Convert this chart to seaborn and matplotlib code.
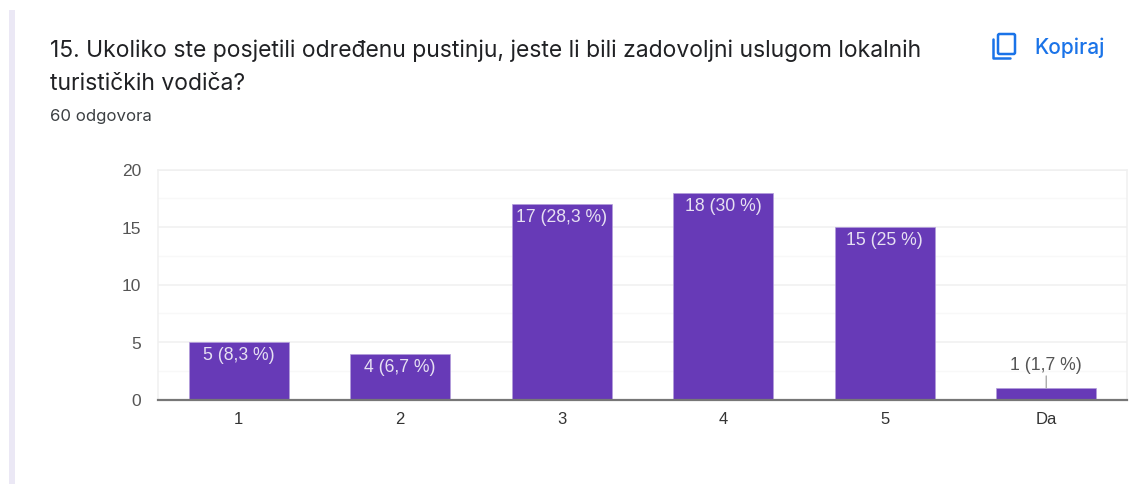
import matplotlib
matplotlib.use('Agg')
import matplotlib.pyplot as plt
from matplotlib.patches import FancyBboxPatch, Rectangle
import pandas as pd
import seaborn as sns

#%% Data
categories = ['1', '2', '3', '4', '5', 'Da']
counts = [5, 4, 17, 18, 15, 1]
bar_labels = ['5 (8,3 %)', '4 (6,7 %)', '17 (28,3 %)', '18 (30 %)', '15 (25 %)', '1 (1,7 %)']
y_ticks = [0, 5, 10, 15, 20]
minor_ticks = [2.5, 7.5, 12.5, 17.5]

title_lines = ['15. Ukoliko ste posjetili određenu pustinju, jeste li bili zadovoljni uslugom lokalnih',
               'turističkih vodiča?']
answers = '60 odgovora'
copy_label = 'Kopiraj'

purple = '#673ab7'
W, H = 1138, 485

#%% Figure
sns.set_theme(style='white')
fig = plt.figure(figsize=(W / 100, H / 100), dpi=100)
ax = fig.add_axes([158 / W, 1 - 400.5 / H, 969 / W, 230 / H])

df = pd.DataFrame({'category': categories, 'count': counts})
sns.barplot(data=df, x='category', y='count', order=categories, color=purple,
            saturation=1, width=0.62, linewidth=0.5, edgecolor='#b39ddb', ax=ax, zorder=3)

ax.set_xlim(-0.5, 5.5)
ax.set_ylim(0, 20)
ax.set_xlabel('')
ax.set_ylabel('')
ax.set_yticks(y_ticks)
ax.set_yticks(minor_ticks, minor=True)
ax.grid(True, which='major', axis='y', color='#f0f0f0', linewidth=1.1, zorder=0)
ax.grid(True, which='minor', axis='y', color='#f8f8f8', linewidth=1, zorder=0)
ax.tick_params(axis='both', which='both', length=0)
ax.tick_params(axis='x', labelsize=12, labelcolor='#333333', pad=8)
ax.tick_params(axis='y', labelsize=12.5, labelcolor='#555555', pad=12)
for lab in ax.get_xticklabels() + ax.get_yticklabels():
    lab.set_family('Liberation Sans')

for side in ['top', 'left', 'right']:
    ax.spines[side].set_color('#f0f0f0')
    ax.spines[side].set_linewidth(1.1)
ax.spines['bottom'].set_color('#777777')
ax.spines['bottom'].set_linewidth(1.6)
ax.spines['bottom'].set_zorder(5)

# labels inside the bars, the small one gets a leader line above
for i, (val, lab) in enumerate(zip(counts, bar_labels)):
    if val > 2:
        ax.annotate(lab, (i, val), xytext=(0, -3), textcoords='offset points', ha='center', va='top',
                    color='#e6e0f2', fontsize=12.7, family='Liberation Sans', zorder=6)
    else:
        ax.annotate(lab, (i, val), xytext=(0, 11), textcoords='offset points', ha='center', va='bottom',
                    color='#555555', fontsize=12.7, family='Liberation Sans', zorder=6,
                    arrowprops=dict(arrowstyle='-', color='#aaaaaa', linewidth=1, shrinkA=0, shrinkB=0))

#%% Form header text
fig.text(50 / W, 1 - 51 / H, title_lines[0], fontsize=16.5, family='Inter', color='#202124', va='center')
fig.text(50 / W, 1 - 83.5 / H, title_lines[1], fontsize=16.5, family='Inter', color='#202124', va='center')
fig.text(50 / W, 1 - 116 / H, answers, fontsize=12.1, family='Inter', color='#3c4043', va='center')
fig.text(1034 / W, 1 - 47.5 / H, copy_label, fontsize=15, family='Inter', color='#1a73e8',
         va='center', weight='medium')

# overlay in pixel coordinates for the copy icon and the card edge
bg = fig.add_axes([0, 0, 1, 1], zorder=-1)
bg.set_xlim(0, W)
bg.set_ylim(H, 0)
bg.axis('off')
bg.add_patch(Rectangle((9, 11), 6, H - 11, color='#ebe8f5', linewidth=0))

icon = fig.add_axes([0, 0, 1, 1], zorder=5)
icon.set_xlim(0, W)
icon.set_ylim(H, 0)
icon.axis('off')
icon.patch.set_alpha(0)
blue = '#1a73e8'
icon.add_patch(FancyBboxPatch((998, 35), 17, 20, boxstyle='round,pad=0,rounding_size=1.5',
                              fill=False, edgecolor=blue, linewidth=1.8))
icon.plot([993, 993, 1010], [40, 58.5, 58.5], color=blue, linewidth=1.8, solid_capstyle='round')

fig.savefig('out.png', dpi=100)
